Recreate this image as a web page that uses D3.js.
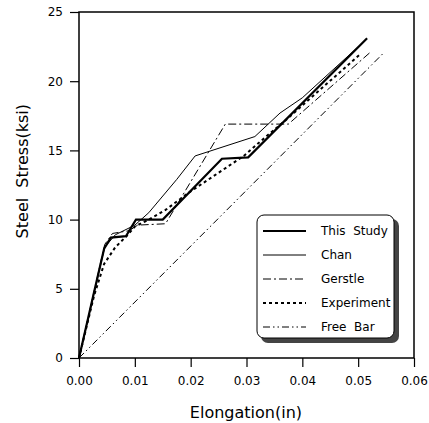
<!DOCTYPE html>
<html>
<head>
<meta charset="utf-8">
<script src="https://cdn.jsdelivr.net/npm/d3@7"></script>
<style>
  body { margin: 0; background: #fff; }
  text { font-family: "DejaVu Sans", sans-serif; fill: #000; }
</style>
</head>
<body>
<svg id="chart" width="429" height="423"></svg>
<script>
// series values: [elongation (in), stress (ksi)]
const thisStudy = [[0,0],[0.0025,4.4],[0.0045,7.9],[0.0057,8.7],[0.0084,8.8],[0.0102,10.0],[0.015,10.0],[0.0256,14.4],[0.0303,14.5],[0.0516,23.1]];
const chan = [[0,0],[0.0046,8.0],[0.0065,8.9],[0.0100,9.6],[0.0125,10.5],[0.0175,12.9],[0.0208,14.6],[0.0315,16.0],[0.036,17.7],[0.040,18.8],[0.0514,23.0]];
const gerstle = [[0,0],[0.0046,8.2],[0.006,9.0],[0.009,9.2],[0.0105,9.6],[0.0155,9.7],[0.0262,16.9],[0.0375,16.9],[0.0522,22.1]];
const experiment = [[0,0],[0.0027,4.5],[0.0045,6.8],[0.0065,8.0],[0.0085,8.8],[0.010,9.5],[0.0125,10.0],[0.0155,10.7],[0.0195,11.9],[0.0295,14.6],[0.0335,16.0],[0.0365,17.0],[0.0505,22.0]];
const freeBar = [[0,0],[0.0547,22.1]];

const seriesNames = ['This  Study', 'Chan', 'Gerstle', 'Experiment', 'Free  Bar'];
const seriesData = [thisStudy, chan, gerstle, experiment, freeBar];
const xTicks = [0, 0.01, 0.02, 0.03, 0.04, 0.05, 0.06];
const yTicks = [0, 5, 10, 15, 20, 25];

const styles = [
  { width: 2.2, dash: null },
  { width: 1, dash: null },
  { width: 1, dash: '8,3,2,3' },
  { width: 2, dash: '3,3' },
  { width: 1, dash: '7,3,1.5,3,1.5,3' }
];

const svgWidth = 429;
const svgHeight = 423;
const margin = { top: 12, right: 15, bottom: 65, left: 79 };
const width = svgWidth - margin.left - margin.right;
const height = svgHeight - margin.top - margin.bottom;

const svg = d3.select('#chart');
const g = svg.append('g').attr('transform', `translate(${margin.left},${margin.top})`);

const x = d3.scaleLinear().domain([0, 0.06]).range([0, width]);
const y = d3.scaleLinear().domain([0, 25]).range([height, 0]);

// x axis
const xAxis = g.append('g')
  .attr('transform', `translate(0,${height})`)
  .call(d3.axisBottom(x).tickValues(xTicks).tickFormat(d3.format('.2f')).tickSize(9).tickPadding(9).tickSizeOuter(0));
xAxis.selectAll('text').style('font-size', '12px');

// y axis
const yAxis = g.append('g')
  .call(d3.axisLeft(y).tickValues(yTicks).tickSize(9).tickPadding(7).tickSizeOuter(0));
yAxis.selectAll('text').style('font-size', '12px');

svg.selectAll('.domain').remove();
svg.selectAll('.tick line').attr('stroke', '#000').attr('stroke-width', 1.2);

// frame
g.append('rect')
  .attr('x', 0).attr('y', 0)
  .attr('width', width).attr('height', height)
  .attr('fill', 'none')
  .attr('stroke', '#000')
  .attr('stroke-width', 1.5);

// curves
const line = d3.line().x(d => x(d[0])).y(d => y(d[1]));
seriesData.forEach((data, i) => {
  g.append('path')
    .datum(data)
    .attr('d', line)
    .attr('fill', 'none')
    .attr('stroke', '#000')
    .attr('stroke-width', styles[i].width)
    .attr('stroke-dasharray', styles[i].dash);
});

// legend
const legend = svg.append('g').attr('transform', 'translate(257,215)');
legend.append('rect')
  .attr('x', 4).attr('y', 4)
  .attr('width', 138).attr('height', 124)
  .attr('rx', 7)
  .attr('fill', '#444');
legend.append('rect')
  .attr('x', 0).attr('y', 0)
  .attr('width', 137).attr('height', 123)
  .attr('rx', 7)
  .attr('fill', '#fff')
  .attr('stroke', '#000')
  .attr('stroke-width', 1);

seriesNames.forEach((name, i) => {
  const row = legend.append('g').attr('transform', `translate(0,${16 + i * 24})`);
  row.append('line')
    .attr('x1', 6).attr('x2', 49)
    .attr('stroke', '#000')
    .attr('stroke-width', styles[i].width)
    .attr('stroke-dasharray', styles[i].dash);
  row.append('text')
    .attr('x', 64).attr('dy', '0.35em')
    .style('font-size', '12px')
    .style('white-space', 'pre')
    .text(name);
});

// axis titles
svg.append('text')
  .attr('x', margin.left + x(0.0299))
  .attr('y', 418)
  .attr('text-anchor', 'middle')
  .style('font-size', '16px')
  .text('Elongation(in)');

svg.append('text')
  .attr('transform', `translate(28,${margin.top + y(13.5)}) rotate(-90)`)
  .attr('text-anchor', 'middle')
  .style('font-size', '16px')
  .style('white-space', 'pre')
  .text('Steel  Stress(ksi)');
</script>
</body>
</html>
